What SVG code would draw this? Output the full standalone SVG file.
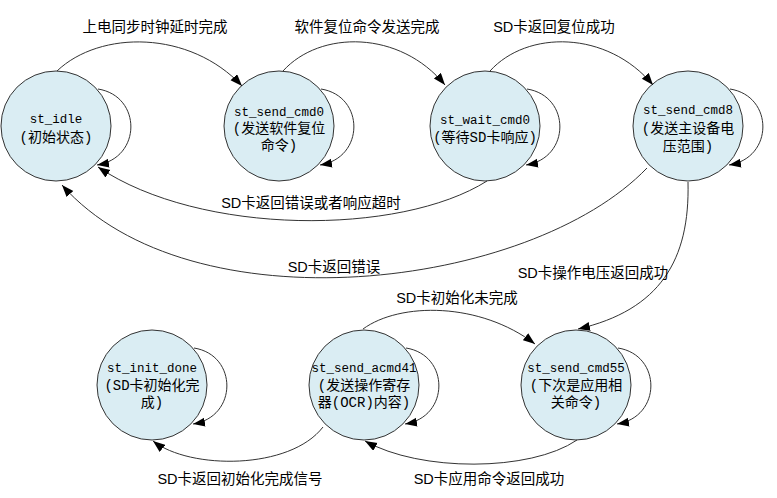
<svg xmlns="http://www.w3.org/2000/svg" width="777" height="498" viewBox="0 0 777 498">
<style>
.node{fill:#daedf3;stroke:#333;stroke-width:1}
.name{font-family:"Liberation Mono","Noto Sans CJK SC",monospace;font-size:12.5px;fill:#000;text-anchor:middle}
.cn{font-family:"Liberation Mono","Noto Sans CJK SC",monospace;font-size:14px;fill:#000;text-anchor:middle}
.lbl{font-family:"Liberation Sans","Noto Sans CJK SC",sans-serif;font-size:14.5px;fill:#000;text-anchor:middle}
.edge{fill:none;stroke:#333;stroke-width:1;marker-end:url(#arr)}
</style>
<defs>
<marker id="arr" markerUnits="userSpaceOnUse" markerWidth="13" markerHeight="10" refX="12" refY="4.5" orient="auto">
<path d="M0,0 L12,4.5 L0,9 z" fill="#000"/>
</marker>
</defs>
<rect width="777" height="498" fill="#fff"/>
<g id="nodes">
<g id="st_idle"><circle class="node" cx="56" cy="126" r="55"/><text class="name" x="56" y="123">st_idle</text><text class="cn" x="56" y="142">(初始状态)</text></g>
<g id="st_send_cmd0"><circle class="node" cx="279" cy="126" r="55"/><text class="name" x="279" y="116">st_send_cmd0</text><text class="cn" x="279" y="133">(发送软件复位</text><text class="cn" x="279" y="150">命令)</text></g>
<g id="st_wait_cmd0"><circle class="node" cx="485" cy="126" r="55"/><text class="name" x="485" y="124">st_wait_cmd0</text><text class="cn" x="485" y="142">(等待SD卡响应)</text></g>
<g id="st_send_cmd8"><circle class="node" cx="688" cy="126" r="55"/><text class="name" x="688" y="114">st_send_cmd8</text><text class="cn" x="688" y="133">(发送主设备电</text><text class="cn" x="688" y="151">压范围)</text></g>
<g id="st_init_done"><circle class="node" cx="152" cy="385" r="55"/><text class="name" x="152" y="372">st_init_done</text><text class="cn" x="152" y="390">(SD卡初始化完</text><text class="cn" x="152" y="407">成)</text></g>
<g id="st_send_acmd41"><circle class="node" cx="364" cy="385" r="55"/><text class="name" x="364" y="372">st_send_acmd41</text><text class="cn" x="364" y="390">(发送操作寄存</text><text class="cn" x="364" y="407">器(OCR)内容)</text></g>
<g id="st_send_cmd55"><circle class="node" cx="576" cy="385" r="55"/><text class="name" x="576" y="372">st_send_cmd55</text><text class="cn" x="576" y="390">(下次是应用相</text><text class="cn" x="576" y="407">关命令)</text></g>
</g>
<g id="connectors">
<path class="edge" d="M57,71 C100,30 190,30 242,86"/>
<path class="edge" d="M283,71 C320,30 400,30 445,85"/>
<path class="edge" d="M490,71 C527,30 607,30 653,85"/>
<path class="edge" d="M98,89 C142,96 142,158 97,165"/>
<path class="edge" d="M321,89 C365,96 365,158 320,165"/>
<path class="edge" d="M527,89 C571,96 571,158 526,165"/>
<path class="edge" d="M730,89 C774,96 774,158 729,165"/>
<path class="edge" d="M194,348 C238,355 238,417 193,424"/>
<path class="edge" d="M406,348 C450,355 450,417 405,424"/>
<path class="edge" d="M618,348 C662,355 662,417 617,424"/>
<path class="edge" d="M487,181 C400,236 200,236 98,167"/>
<path class="edge" d="M647,168 C530,290 190,330 62,185"/>
<path class="edge" d="M688,182 C690,260 660,310 578,329"/>
<path class="edge" d="M363,329 C400,302 480,302 535,344"/>
<path class="edge" d="M577,440 C530,472 420,472 365,441"/>
<path class="edge" d="M323,427 C290,470 190,470 153,441"/>
</g>
<g id="labels">
<text class="lbl" x="155" y="32">上电同步时钟延时完成</text>
<text class="lbl" x="367" y="32">软件复位命令发送完成</text>
<text class="lbl" x="554" y="32">SD卡返回复位成功</text>
<text class="lbl" x="311" y="208">SD卡返回错误或者响应超时</text>
<text class="lbl" x="334" y="272">SD卡返回错误</text>
<text class="lbl" x="593" y="278">SD卡操作电压返回成功</text>
<text class="lbl" x="457" y="303">SD卡初始化未完成</text>
<text class="lbl" x="240" y="484">SD卡返回初始化完成信号</text>
<text class="lbl" x="489" y="484">SD卡应用命令返回成功</text>
</g>
</svg>
